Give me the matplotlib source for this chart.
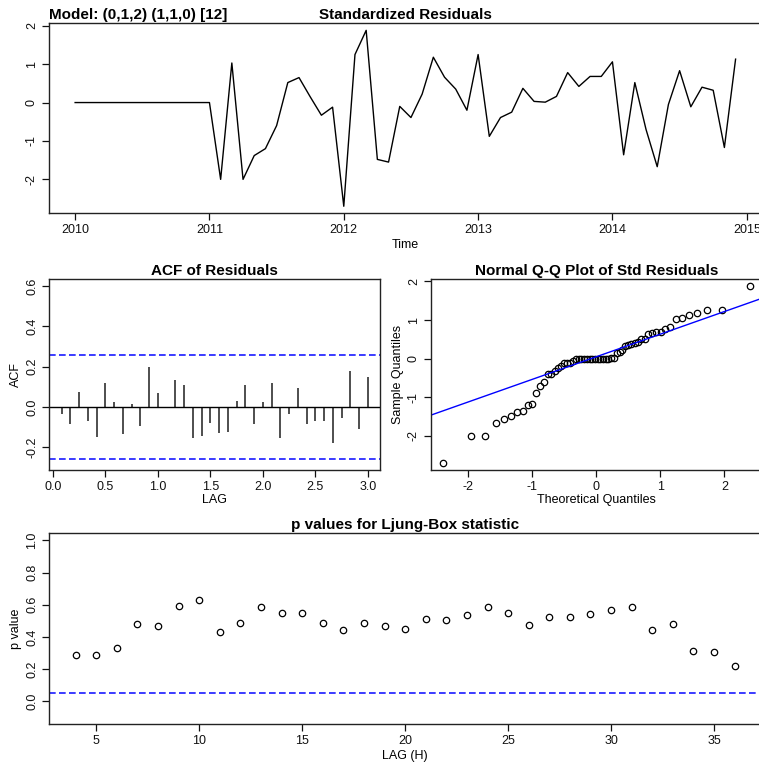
import statistics
import matplotlib
matplotlib.use('Agg')
import matplotlib.pyplot as plt
import numpy as np

plt.rcParams['font.family'] = ['Liberation Sans', 'DejaVu Sans']
plt.rcParams['font.size'] = 9
plt.rcParams['axes.unicode_minus'] = False

# standardized residuals, monthly from Jan 2010 (first 13 are zero)
resid = [0.0] * 13 + [
    -2.0, 1.03, -2.0, -1.38, -1.2, -0.6, 0.52, 0.65, 0.15, -0.33, -0.12,
    -2.7, 1.25, 1.88, -1.48, -1.55, -0.1, -0.39, 0.22, 1.18, 0.66, 0.35, -0.2,
    1.25, -0.88, -0.39, -0.25, 0.37, 0.03, 0.01, 0.16, 0.78, 0.42, 0.68, 0.68,
    1.06, -1.36, 0.52, -0.70, -1.67, -0.05, 0.83, -0.11, 0.40, 0.32, -1.17, 1.13,
]
start_year = 2010
freq = 12

# ACF of residuals, lags 1..36
acf_vals = [
    -0.033, -0.085, 0.077, -0.069, -0.148, 0.12, 0.025, -0.134, 0.016, -0.093,
    0.197, 0.07, 0.0, 0.132, 0.107, -0.152, -0.143, -0.077, -0.13, -0.125,
    0.03, 0.107, -0.082, 0.025, 0.12, -0.152, -0.036, 0.095, -0.082, -0.07,
    -0.07, -0.177, -0.052, 0.18, -0.107, 0.148,
]
acf_bound = 0.258

# Ljung-Box p values, lags 4..36
lb_lags = list(range(4, 37))
lb_pvals = [
    0.29, 0.29, 0.33, 0.479, 0.465, 0.591, 0.631, 0.427, 0.488, 0.585,
    0.548, 0.548, 0.488, 0.442, 0.488, 0.465, 0.45, 0.51, 0.502, 0.533,
    0.585, 0.548, 0.473, 0.525, 0.525, 0.539, 0.564, 0.585, 0.444, 0.481,
    0.315, 0.307, 0.218,
]


def rlim(lo, hi):
    pad = (hi - lo) * 0.04
    return lo - pad, hi + pad


def style(ax):
    for s in ax.spines.values():
        s.set_linewidth(1.0)
        s.set_color('#222222')
    ax.tick_params(direction='out', length=4.8, width=0.9, pad=3,
                   labelsize=9, colors='#111111')
    ax.tick_params(axis='y', labelrotation=90)
    for lbl in ax.get_yticklabels():
        lbl.set_va('center')


W, H = 759, 769
fig = plt.figure(figsize=(W / 100, H / 100), dpi=100)


def px_axes(left, top, right, bottom):
    return fig.add_axes([left / W, 1 - bottom / H, (right - left) / W,
                         (bottom - top) / H])


# --- standardized residuals
ax1 = px_axes(48.7, 23.3, 762, 213.3)
t = start_year + np.arange(len(resid)) / freq
ax1.plot(t, resid, color='black', lw=1.0)
ax1.set_xlim(*rlim(t.min(), t.max()))
ax1.set_ylim(*rlim(min(resid), max(resid)))
ax1.set_xticks([2010, 2011, 2012, 2013, 2014, 2015])
ax1.set_yticks([-2, -1, 0, 1, 2])
ax1.set_xlabel('Time', labelpad=2)
ax1.set_title('Standardized Residuals', fontsize=11, fontweight='bold', pad=3)
ax1.set_title('Model: (0,1,2) (1,1,0) [12]', fontsize=11, fontweight='bold',
              loc='left', pad=3)
style(ax1)

# --- ACF
ax2 = px_axes(49.3, 279, 380, 470)
lags = np.arange(1, len(acf_vals) + 1) / freq
ax2.vlines(lags, 0, acf_vals, color='#404040', lw=1.3)
ax2.axhline(0, color='black', lw=1.0)
ax2.axhline(acf_bound, color='#1a1aff', lw=1.2, dashes=(4, 2))
ax2.axhline(-acf_bound, color='#1a1aff', lw=1.2, dashes=(4, 2))
ax2.set_xlim(*rlim(lags.min(), lags.max()))
ax2.set_ylim(*rlim(min(acf_vals) - 0.1, 0.6))
ax2.set_xticks(np.arange(0, 3.01, 0.5))
ax2.set_xticklabels(['%.1f' % v for v in np.arange(0, 3.01, 0.5)])
ax2.set_yticks([-0.2, 0.0, 0.2, 0.4, 0.6])
ax2.set_yticklabels(['-0.2', '0.0', '0.2', '0.4', '0.6'])
ax2.set_xlabel('LAG', labelpad=1)
ax2.set_ylabel('ACF', labelpad=3)
ax2.set_title('ACF of Residuals', fontsize=11, fontweight='bold', pad=3)
style(ax2)

# --- normal Q-Q
ax3 = px_axes(430.7, 279, 762, 470)
n = len(resid)
nd = statistics.NormalDist()
theo = np.array([nd.inv_cdf((i + 0.5) / n) for i in range(n)])
samp = np.sort(resid)
ax3.plot(theo, samp, 'o', mfc='none', mec='black', ms=4.6, mew=0.9)
yq = np.percentile(samp, [25, 75])
xq = np.array([nd.inv_cdf(0.25), nd.inv_cdf(0.75)])
slope = (yq[1] - yq[0]) / (xq[1] - xq[0])
icpt = yq[0] - slope * xq[0]
xl = np.array([-3, 3])
ax3.plot(xl, icpt + slope * xl, color='#0000ff', lw=1.0)
ax3.set_xlim(*rlim(theo.min(), theo.max()))
ax3.set_ylim(*rlim(samp.min(), samp.max()))
ax3.set_xticks([-2, -1, 0, 1, 2])
ax3.set_yticks([-2, -1, 0, 1, 2])
ax3.set_xlabel('Theoretical Quantiles', labelpad=1)
ax3.set_ylabel('Sample Quantiles', labelpad=3)
ax3.set_title('Normal Q-Q Plot of Std Residuals', fontsize=11,
              fontweight='bold', pad=3)
style(ax3)

# --- Ljung-Box
ax4 = px_axes(49.3, 533.3, 761, 724.3)
ax4.plot(lb_lags, lb_pvals, 'o', mfc='none', mec='black', ms=4.6, mew=0.9)
ax4.axhline(0.05, color='#1a1aff', lw=1.2, dashes=(4, 2))
ax4.set_xlim(*rlim(min(lb_lags), max(lb_lags)))
ax4.set_ylim(*rlim(-0.1, 1.0))
ax4.set_xticks([5, 10, 15, 20, 25, 30, 35])
ax4.set_yticks([0.0, 0.2, 0.4, 0.6, 0.8, 1.0])
ax4.set_yticklabels(['0.0', '0.2', '0.4', '0.6', '0.8', '1.0'])
ax4.set_xlabel('LAG (H)', labelpad=2)
ax4.set_ylabel('p value', labelpad=3)
ax4.set_title('p values for Ljung-Box statistic', fontsize=11,
              fontweight='bold', pad=3)
style(ax4)

fig.savefig('out.png', dpi=100)
